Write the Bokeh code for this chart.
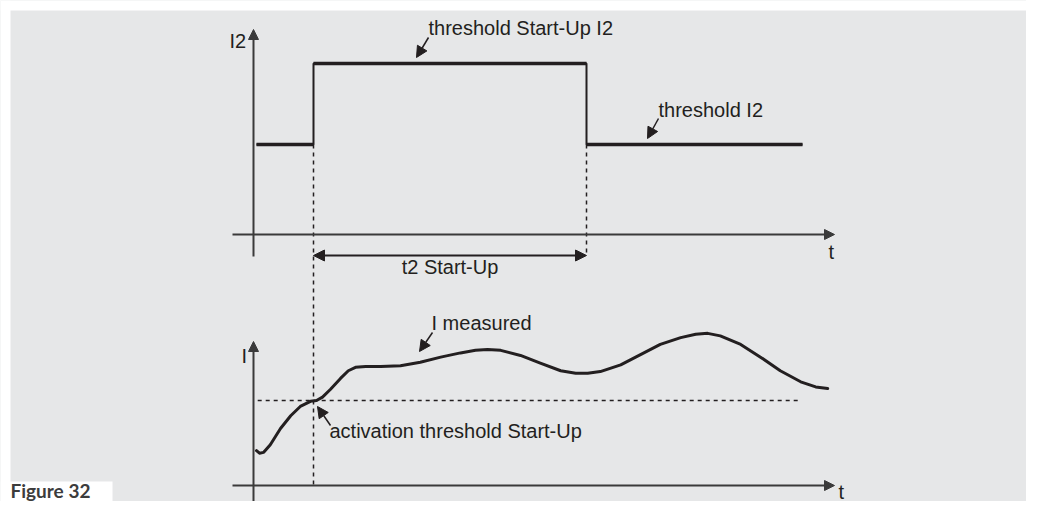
from bokeh.plotting import figure
from bokeh.models import Range1d, Arrow, NormalHead
from bokeh.core.properties import value
from bokeh.embed import file_html
from bokeh.resources import INLINE

# ---------------- data ----------------
# top panel: threshold I2 over time t (arbitrary units)
i2_t = [0.05, 1.0, 1.0, 5.55, 5.55, 9.15]
i2_v = [1.0, 1.0, 1.9, 1.9, 1.0, 1.0]
startup_begin = 1.0
startup_end = 5.55

# bottom panel: measured current I over time t
meas_t = [0.05, 0.10, 0.17, 0.28, 0.45, 0.62, 0.78, 0.95, 1.05, 1.15, 1.28, 1.45,
          1.58, 1.70, 1.87, 2.12, 2.45, 2.78, 3.12, 3.45, 3.70, 3.90, 4.12, 4.45,
          4.78, 5.12, 5.37, 5.57, 5.78, 6.12, 6.45, 6.78, 7.12, 7.37, 7.57, 7.78,
          8.12, 8.45, 8.78, 9.12, 9.37, 9.57]
meas_i = [0.41, 0.38, 0.39, 0.48, 0.67, 0.82, 0.93, 0.99, 1.00, 1.04, 1.13, 1.26,
          1.35, 1.39, 1.40, 1.40, 1.41, 1.45, 1.51, 1.56, 1.59, 1.60, 1.59, 1.53,
          1.44, 1.35, 1.32, 1.32, 1.34, 1.42, 1.54, 1.66, 1.74, 1.78, 1.79, 1.76,
          1.66, 1.51, 1.35, 1.22, 1.16, 1.14]
activation_threshold = 1.0
threshold_line_t = [0.07, 9.12]

labels_top = ["threshold Start-Up I2", "threshold I2", "t2 Start-Up"]
labels_bottom = ["I measured", "activation threshold Start-Up"]
caption = "Figure 32"

# ---------------- layout ----------------
W, H = 1026, 501
T0_X, PX_T = 253, 60.0
TOP_BASE, PX_I2 = 234, 90.0
BOT_BASE, PX_I = 485, 85.0
TXT_SHIFT = 8  # renderer places alphabetic baseline ~8px lower


def tx(px):
    return (px - T0_X) / PX_T


def yt(py):
    return (TOP_BASE - py) / PX_I2


def yb(py):
    return (BOT_BASE - py) / PX_I


BG = "#e6e7e8"
INK = "#231f20"
AX = "#3a3a3a"
FONT = value("Liberation Sans")

p = figure(width=W, height=H, output_backend="svg", toolbar_location=None,
           title=None, x_axis_type=None, y_axis_type=None, min_border=0,
           x_range=Range1d(tx(0), tx(W)),
           y_range=Range1d(yb(H), yb(0)))
p.extra_y_ranges = {"top": Range1d(yt(H), yt(0))}
p.grid.visible = False
p.outline_line_color = None
p.background_fill_color = BG
p.border_fill_color = BG

# white page strips and caption box
p.quad(left=[tx(0), tx(0), tx(0)], right=[tx(W), tx(10), tx(112)],
       top=[yb(0), yb(0), yb(481)], bottom=[yb(10), yb(H), yb(H)],
       fill_color="white", line_color=None)


def arrow(x0, y0, x1, y1, lw=2, size=10, both=False, rng="default", color=AX):
    kw = {}
    if rng != "default":
        kw["y_range_name"] = rng
    p.add_layout(Arrow(x_start=x0, y_start=y0, x_end=x1, y_end=y1,
                       line_width=lw, line_color=color,
                       start=NormalHead(size=size, fill_color=color, line_color=color) if both else None,
                       end=NormalHead(size=size, fill_color=color, line_color=color), **kw))


# ---- top panel axes ----
arrow(tx(232), 0, tx(834), 0, rng="top")
arrow(0, yt(256), 0, yt(29), rng="top")

# step curve
p.line(i2_t, i2_v, line_width=2, line_color=INK, y_range_name="top")
hx0 = [i2_t[k] for k in range(len(i2_t) - 1) if i2_v[k] == i2_v[k + 1]]
hx1 = [i2_t[k + 1] for k in range(len(i2_t) - 1) if i2_v[k] == i2_v[k + 1]]
hy = [i2_v[k] for k in range(len(i2_t) - 1) if i2_v[k] == i2_v[k + 1]]
p.segment(x0=hx0, y0=hy, x1=hx1, y1=hy, line_width=3.5, line_color=INK,
          y_range_name="top")

# dashed verticals
p.segment(x0=[startup_begin, startup_end], y0=[i2_v[1], i2_v[4]],
          x1=[startup_begin, startup_end], y1=[yt(256), yt(256)],
          line_width=1.5, line_dash="4 4", line_color=INK, y_range_name="top")
p.segment(x0=[startup_begin], y0=[yb(256)], x1=[startup_begin], y1=[0],
          line_width=1.5, line_dash="4 4", line_color=INK)

# duration arrow
arrow(startup_begin, yt(255), startup_end, yt(255), lw=2, size=11, both=True,
      rng="top", color=INK)

# ---- bottom panel axes ----
arrow(tx(232), 0, tx(834), 0)
arrow(0, yb(505), 0, yb(341))

p.line(threshold_line_t, [activation_threshold] * 2, line_width=1.5,
       line_dash="4 4", line_color=INK)
p.line(meas_t, meas_i, line_width=3, line_color=INK, line_join="round",
       line_cap="round")

# ---- texts ----
S = TXT_SHIFT
tkw = dict(text_font=FONT, text_font_size="20px", text_color=INK,
           text_baseline="alphabetic")
p.text(x=[tx(428), tx(658)], y=[yt(35 - S), yt(117 - S)], text=labels_top[:2],
       text_align="left", y_range_name="top", **tkw)
p.text(x=[(startup_begin + startup_end) / 2], y=[yt(274 - S)], text=[labels_top[2]],
       text_align="center", y_range_name="top", **tkw)
p.text(x=[tx(229), tx(828)], y=[yt(48 - S), yt(259 - S)], text=["I2", "t"],
       text_align="left", y_range_name="top", **tkw)
p.text(x=[tx(431), tx(329)], y=[yb(330 - S), yb(438 - S)], text=labels_bottom,
       text_align="left", **tkw)
p.text(x=[tx(241), tx(838)], y=[yb(363 - S), yb(499 - S)], text=["I", "t"],
       text_align="left", **tkw)

# pointers
arrow(tx(428), yt(37), tx(416), yt(57), lw=1.5, size=11, rng="top", color=INK)
arrow(tx(658), yt(118), tx(647), yt(138), lw=1.5, size=11, rng="top", color=INK)
arrow(tx(432), yb(332), tx(419), yb(351), lw=1.5, size=11, color=INK)
arrow(tx(330), yb(425), tx(317), yb(406), lw=1.5, size=11, color=INK)

# caption
p.text(x=[tx(10)], y=[yb(498 - S)], text=[caption], text_font=value("Lato"),
       text_font_size="19px", text_font_style="bold", text_color="#3c3c3c",
       text_baseline="alphabetic", text_align="left")

open("out.html", "w").write(file_html(p, INLINE))
